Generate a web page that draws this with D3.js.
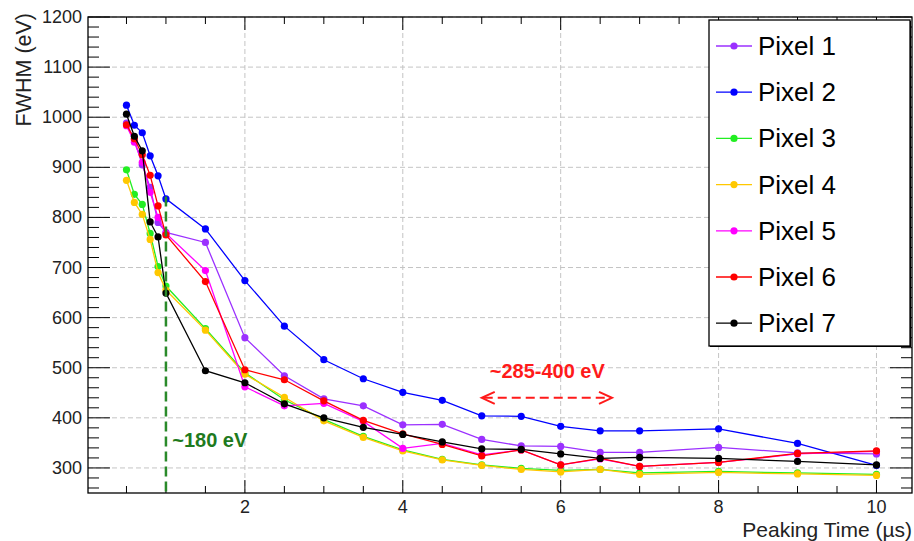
<!DOCTYPE html>
<html><head><meta charset="utf-8">
<script src="https://cdn.jsdelivr.net/npm/d3@7"></script>
<style>body{margin:0;background:#fff} svg{display:block;font-family:"Liberation Sans",Arial,Helvetica,sans-serif}</style>
</head><body><svg id="c" width="914" height="541"></svg>
<script>
const peakingTimes = [0.5,0.6,0.7,0.8,0.9,1.0,1.5,2,2.5,3,3.5,4,4.5,5,5.5,6,6.5,7,8,9,10];
const pixel1 = [988,955,905,860,790,770,750,560,484,438,424,386,387,357,344,343,331,331,341,330,328];
const pixel2 = [1024,984,969,923,883,837,777,674,583,516,478,451,435,404,403,383,374,374,378,349,305];
const pixel3 = [895,846,826,768,702,663,578,490,436,397,363,336,317,306,299,295,297,290,293,290,287];
const pixel4 = [874,830,806,756,690,655,575,487,441,394,361,334,316,305,297,292,297,287,291,288,285];
const pixel5 = [983,950,910,850,800,768,694,462,424,429,393,339,349,326,336,306,318,303,311,328,333];
const pixel6 = [985,957,925,884,823,765,672,496,476,434,395,368,347,324,336,306,319,303,311,329,334];
const pixel7 = [1006,962,933,791,761,649,494,470,428,400,381,367,352,338,337,328,319,321,319,313,306];
const seriesNames = ["Pixel 1","Pixel 2","Pixel 3","Pixel 4","Pixel 5","Pixel 6","Pixel 7"];
const seriesColors = ["#9b30ff","#0000ff","#22ee22","#ffc800","#ff00ff","#ff0000","#000000"];
const xTickLabels = [2,4,6,8,10];
const yTickLabels = [300,400,500,600,700,800,900,1000,1100,1200];

const all = [pixel1,pixel2,pixel3,pixel4,pixel5,pixel6,pixel7];
const svg = d3.select("#c");
const L=88, R=912, T=17, B=493;
const x = d3.scaleLinear().domain([0,10.45]).range([87,R]);
const y = d3.scaleLinear().domain([250,1200]).range([B,T]);

// grid
const g = svg.append("g");
g.selectAll(".gx").data(xTickLabels).enter().append("line")
 .attr("x1",d=>x(d)).attr("x2",d=>x(d)).attr("y1",T).attr("y2",B)
 .attr("stroke","#c4c4c4").attr("stroke-width",1).attr("stroke-dasharray","5,3");
g.selectAll(".gy").data(yTickLabels).enter().append("line")
 .attr("x1",L).attr("x2",R).attr("y1",d=>y(d)).attr("y2",d=>y(d))
 .attr("stroke","#c4c4c4").attr("stroke-width",1).attr("stroke-dasharray","5,3");

// ticks
const xMinor = d3.range(0.5,10.45,0.5);
const yMinor = d3.range(260,1201,20);
const tk = svg.append("g").attr("stroke","#000").attr("stroke-width",1);
xMinor.forEach(v=>{
  const len = (v%2===0)?13:7;
  tk.append("line").attr("x1",x(v)).attr("x2",x(v)).attr("y1",B).attr("y2",B-len);
  tk.append("line").attr("x1",x(v)).attr("x2",x(v)).attr("y1",T).attr("y2",T+len);
});
yMinor.forEach(v=>{
  const len = (v%100===0)?22:11;
  tk.append("line").attr("x1",L).attr("x2",L+len).attr("y1",y(v)).attr("y2",y(v));
  tk.append("line").attr("x1",R).attr("x2",R-len).attr("y1",y(v)).attr("y2",y(v));
});

// frame
svg.append("rect").attr("x",L).attr("y",T).attr("width",R-L).attr("height",B-T)
 .attr("fill","none").attr("stroke","#000").attr("stroke-width",1.3);

// tick labels
svg.selectAll(".xl").data(xTickLabels).enter().append("text")
 .attr("x",d=>x(d)).attr("y",513).attr("text-anchor","middle")
 .attr("font-size",18).attr("fill","#222").text(d=>d);
svg.selectAll(".yl").data(yTickLabels).enter().append("text")
 .attr("x",82).attr("y",d=>y(d)+6).attr("text-anchor","end")
 .attr("font-size",18).attr("fill","#222").text(d=>d);

// axis titles
svg.append("text").attr("x",912).attr("y",537).attr("text-anchor","end")
 .attr("font-size",21).attr("fill","#222").text("Peaking Time (µs)");
svg.append("text").attr("transform","translate(31,13) rotate(-90)").attr("text-anchor","end")
 .attr("font-size",21.5).attr("fill","#222").text("FWHM (eV)");

// series
const line = d3.line().x((d,i)=>x(peakingTimes[i])).y(d=>y(d));
all.forEach((s,k)=>{
  const sg = svg.append("g");
  sg.append("path").attr("d",line(s)).attr("fill","none")
    .attr("stroke",seriesColors[k]).attr("stroke-width",1.3);
  sg.selectAll("circle").data(s).enter().append("circle")
    .attr("cx",(d,i)=>x(peakingTimes[i])).attr("cy",d=>y(d)).attr("r",3.6)
    .attr("fill",seriesColors[k]);
});

// annotations
const dg = "#2a8a2a";
svg.append("line").attr("x1",x(1)).attr("x2",x(1)).attr("y1",y(842)).attr("y2",B)
 .attr("stroke",dg).attr("stroke-width",2.5).attr("stroke-dasharray","10,5");
svg.append("text").attr("x",x(1.08)).attr("y",y(342)).attr("font-size",20)
 .attr("font-weight","bold").attr("fill","#1e7a1e").text("~180 eV");
svg.append("text").attr("x",x(5.83)).attr("y",y(480)).attr("font-size",20)
 .attr("text-anchor","middle").attr("font-weight","bold").attr("fill","#ff1a1a").text("~285-400 eV");
const ax1=x(5.0), ax2=x(6.65), ay=y(440);
const ag = svg.append("g").attr("stroke","#ff1a1a").attr("stroke-width",2).attr("fill","none");
ag.append("line").attr("x1",ax1+2).attr("x2",ax2-2).attr("y1",ay).attr("y2",ay).attr("stroke-dasharray","9,5");
ag.append("path").attr("d",`M${ax1+13},${ay-6}L${ax1},${ay}L${ax1+13},${ay+6}`);
ag.append("path").attr("d",`M${ax2-13},${ay-6}L${ax2},${ay}L${ax2-13},${ay+6}`);

// legend
const lg = svg.append("g");
lg.append("rect").attr("x",710).attr("y",21).attr("width",201).attr("height",326).attr("fill","#000");
lg.append("rect").attr("x",709).attr("y",20).attr("width",201).attr("height",326)
 .attr("fill","#fff").attr("stroke","#000").attr("stroke-width",1.3);
seriesNames.forEach((n,k)=>{
  const yy = 46 + k*46.2;
  lg.append("line").attr("x1",716).attr("x2",752).attr("y1",yy).attr("y2",yy)
   .attr("stroke",seriesColors[k]).attr("stroke-width",1.3);
  lg.append("circle").attr("cx",734).attr("cy",yy).attr("r",3.6).attr("fill",seriesColors[k]);
  lg.append("text").attr("x",758).attr("y",yy+9).attr("font-size",26).attr("fill","#000").text(n);
});
</script></body></html>
